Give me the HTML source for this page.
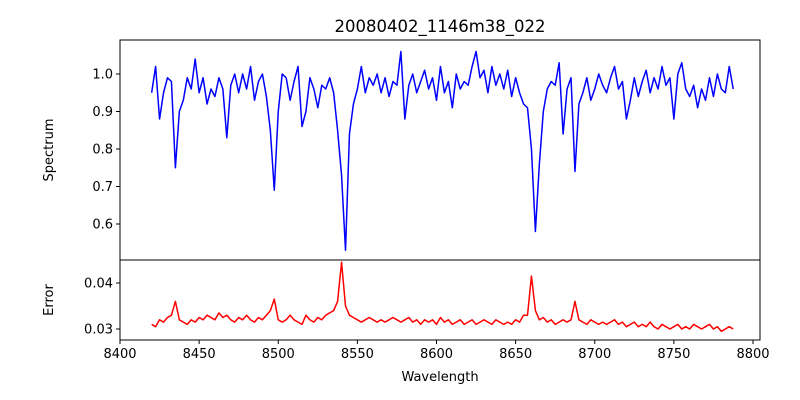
<!DOCTYPE html>
<html><head><meta charset="utf-8"><style>
body{margin:0;background:#fff}
svg{display:block;font-family:"DejaVu Sans","Liberation Sans",sans-serif}
</style></head><body>
<svg id="chart" width="800" height="400" xmlns="http://www.w3.org/2000/svg"></svg>
<script>
const waveStart = 8420;
const waveStep = 2.5;
const flux = [
.95,1.02,.88,.95,.99,.98,.75,.90,.93,.99,
.96,1.04,.95,.99,.92,.96,.94,.99,.96,.83,
.97,1.00,.95,1.00,.96,1.02,.93,.98,1.00,.94,
.85,.69,.90,1.00,.99,.93,.98,1.02,.86,.90,
.99,.96,.91,.97,.96,.99,.95,.85,.73,.53,
.84,.92,.96,1.02,.95,.99,.97,1.00,.95,.99,
.94,.98,.97,1.06,.88,.97,1.00,.95,.98,1.01,
.96,.99,.93,1.02,.95,.98,.91,1.00,.96,.98,
.97,1.02,1.06,.99,1.01,.95,1.02,.97,1.00,.96,
1.01,.94,.99,.95,.92,.91,.80,.58,.76,.90,
.96,.98,.97,1.03,.84,.96,.99,.74,.92,.95,
.99,.93,.96,1.00,.97,.95,.99,1.02,.96,.98,
.88,.93,.99,.94,.98,1.01,.95,.99,.96,1.02,
.97,.99,.88,1.00,1.03,.96,.94,.97,.91,.96,
.93,.99,.94,1.00,.96,.95,1.02,.96];
const errors = [
0.0310,0.0305,0.0320,0.0315,0.0325,0.0330,0.0360,0.0320,0.0315,0.0310,
0.0320,0.0315,0.0325,0.0320,0.0330,0.0325,0.0320,0.0335,0.0325,0.0330,
0.0320,0.0315,0.0325,0.0320,0.0330,0.0320,0.0315,0.0325,0.0320,0.0330,
0.0340,0.0365,0.0320,0.0315,0.0320,0.0330,0.0320,0.0315,0.0310,0.0330,
0.0320,0.0315,0.0325,0.0320,0.0330,0.0335,0.0340,0.0360,0.0445,0.0350,
0.0330,0.0325,0.0320,0.0315,0.0320,0.0325,0.0320,0.0315,0.0320,0.0315,
0.0320,0.0325,0.0320,0.0315,0.0320,0.0325,0.0315,0.0320,0.0310,0.0320,
0.0315,0.0320,0.0310,0.0325,0.0315,0.0320,0.0310,0.0315,0.0320,0.0310,
0.0315,0.0320,0.0310,0.0315,0.0320,0.0315,0.0310,0.0320,0.0315,0.0310,
0.0315,0.0310,0.0320,0.0315,0.0330,0.0330,0.0415,0.0340,0.0320,0.0325,
0.0315,0.0320,0.0310,0.0315,0.0320,0.0315,0.0320,0.0360,0.0320,0.0315,
0.0310,0.0320,0.0315,0.0310,0.0315,0.0310,0.0315,0.0320,0.0310,0.0315,
0.0305,0.0310,0.0315,0.0305,0.0310,0.0305,0.0315,0.0305,0.0300,0.0310,
0.0305,0.0300,0.0305,0.0310,0.0300,0.0305,0.0300,0.0310,0.0305,0.0300,
0.0305,0.0310,0.0300,0.0305,0.0295,0.0300,0.0305,0.0300];
const xTicks = [8400,8450,8500,8550,8600,8650,8700,8750,8800];
const fluxTicks = [0.6,0.7,0.8,0.9,1.0];
const errTicks = [0.03,0.04];

const NS="http://www.w3.org/2000/svg";
const svg=document.getElementById('chart');
const L=120,R=760,T1=40,B1=260,T2=260,B2=340;
const xs=w=>L+(w-8400)*(753-120)/400;
const y1=f=>74+(1.0-f)*375;
const y2=e=>329-(e-0.03)*4600;
function mk(tag,attrs,parent){const e=document.createElementNS(NS,tag);for(const k in attrs)e.setAttribute(k,attrs[k]);(parent||svg).appendChild(e);return e;}

// frames
const f1=mk('rect',{x:L,y:T1,width:R-L,height:B1-T1,fill:'none',stroke:'#000','stroke-width':1});


const f2=mk('rect',{x:L,y:T2,width:R-L,height:B2-T2,fill:'none',stroke:'#000','stroke-width':1});



// lines
let p='';flux.forEach((v,i)=>{p+=(i?'L':'M')+xs(waveStart+i*waveStep).toFixed(2)+' '+y1(v).toFixed(2);});
const sl=mk('path',{d:p,fill:'none',stroke:'#0000ff','stroke-width':1.5,'stroke-linejoin':'round'});


p='';errors.forEach((v,i)=>{p+=(i?'L':'M')+xs(waveStart+i*waveStep).toFixed(2)+' '+y2(v).toFixed(2);});
const el=mk('path',{d:p,fill:'none',stroke:'#ff0000','stroke-width':1.5,'stroke-linejoin':'round'});



// x ticks
xTicks.forEach(t=>{const x=xs(t);
 mk('line',{x1:x,x2:x,y1:B2,y2:B2+4,stroke:'#000'});
 const tx=mk('text',{x:x,y:B2+18,'text-anchor':'middle','font-size':13});tx.textContent=t;
 
 
});
fluxTicks.forEach(t=>{const y=y1(t);
 mk('line',{x1:L-4,x2:L,y1:y,y2:y,stroke:'#000'});
 const tx=mk('text',{x:L-7,y:y+4.5,'text-anchor':'end','font-size':13});tx.textContent=t.toFixed(1);
 
 
});
errTicks.forEach(t=>{const y=y2(t);
 mk('line',{x1:L-4,x2:L,y1:y,y2:y,stroke:'#000'});
 const tx=mk('text',{x:L-7,y:y+4.5,'text-anchor':'end','font-size':13});tx.textContent=t.toFixed(2);
 
 
});
</script>
<svg width="0" height="0"></svg>
<script>
(function(){
const NS="http://www.w3.org/2000/svg",svg=document.getElementById('chart');
function t(txt,a,name){const e=document.createElementNS(NS,'text');for(const k in a)e.setAttribute(k,a[k]);e.textContent=txt;svg.appendChild(e);

}
t('20080402_1146m38_022',{x:440,y:32,'text-anchor':'middle','font-size':16.5},'chart-title');
t('Wavelength',{x:440,y:381,'text-anchor':'middle','font-size':13},'x-axis-title');
t('Spectrum',{x:53,y:150,'text-anchor':'middle','font-size':13,transform:'rotate(-90 53 150)'},'spectrum-axis-title');
t('Error',{x:53,y:300,'text-anchor':'middle','font-size':13,transform:'rotate(-90 53 300)'},'error-axis-title');
})();
</script>
</body></html>
